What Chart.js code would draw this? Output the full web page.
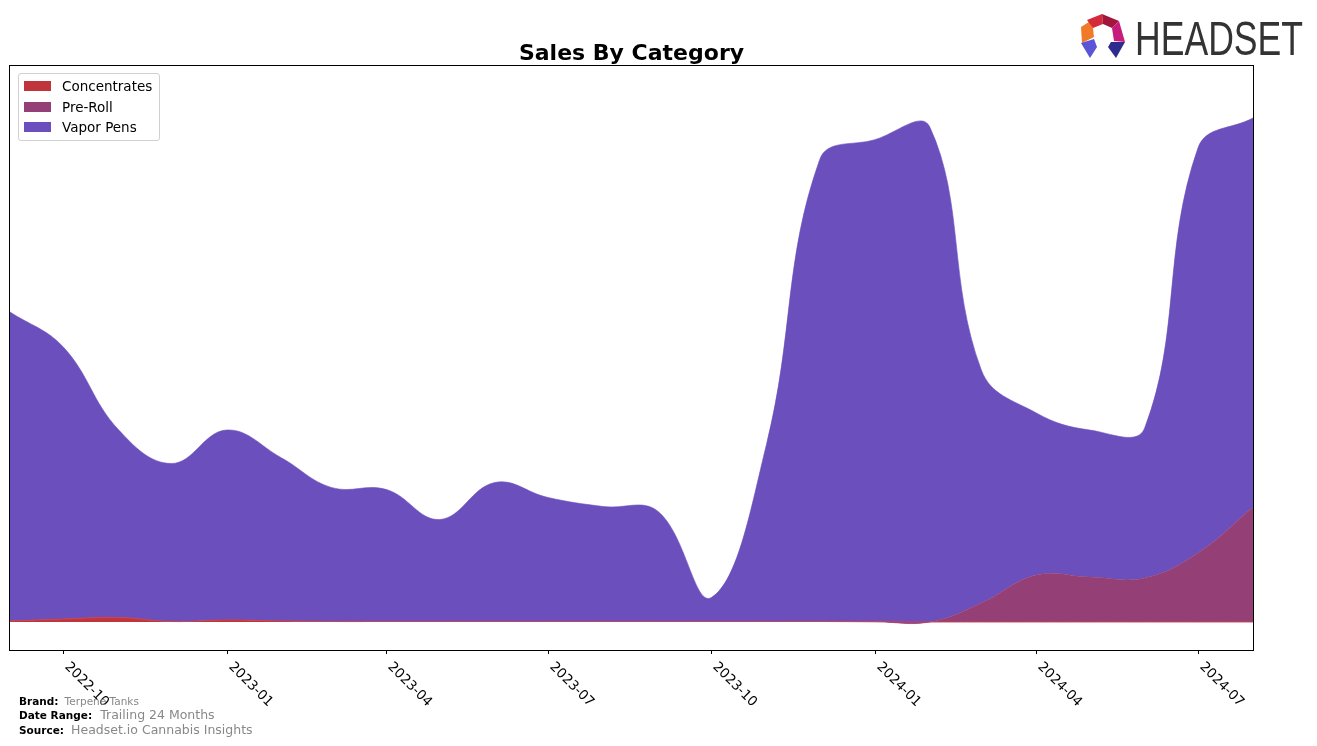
<!DOCTYPE html>
<html>
<head>
<meta charset="utf-8">
<script src="https://cdn.jsdelivr.net/npm/chart.js@4.4.1/dist/chart.umd.min.js"></script>
<style>
  html, body { margin: 0; padding: 0; background: #fff; }
  body { width: 1317px; height: 746px; position: relative; overflow: hidden; font-family: "DejaVu Sans", sans-serif; }
  #wrap { position: absolute; left: 0; top: 0; width: 1317px; height: 746px; }
  #title { position: absolute; left: 0; width: 1263px; top: 40px; text-align: center; font-weight: bold; font-size: 22px; color: #000; }
  #legend { position: absolute; left: 18px; top: 73px; width: 140px; height: 66px; border: 1px solid #d0d0d0; border-radius: 3px; background: rgba(255,255,255,0.85); }
  .lg { position: absolute; left: 5px; font-size: 13.5px; color: #000; white-space: nowrap; }
  .lg span.sw { display: inline-block; width: 27px; height: 10px; vertical-align: middle; margin-right: 11px; position: relative; top: -1px; }
  .ft { position: absolute; white-space: nowrap; }
  .ft b { color: #000; font-size: 10.5px; }
  .g { color: #888; }
</style>
</head>
<body>
<div id="wrap"><canvas id="c" width="1317" height="746"></canvas></div>
<div id="title">Sales By Category</div>
<div id="legend">
  <div class="lg" style="top:4px"><span class="sw" style="background:#c0353b"></span>Concentrates</div>
  <div class="lg" style="top:25px"><span class="sw" style="background:#953f77"></span>Pre-Roll</div>
  <div class="lg" style="top:45px"><span class="sw" style="background:#6a4fbd"></span>Vapor Pens</div>
</div>
<div class="ft" style="left:19px;top:690px"><b>Brand:</b> <span class="g" style="font-size:10.5px;margin-left:1px">Terpene Tanks</span></div>
<div class="ft" style="left:19px;top:704px"><b>Date Range:</b> <span class="g" style="font-size:12.5px;margin-left:3px">Trailing 24 Months</span></div>
<div class="ft" style="left:19px;top:719px"><b>Source:</b> <span class="g" style="font-size:12.5px;margin-left:2px">Headset.io Cannabis Insights</span></div>
<svg style="position:absolute;left:0;top:0" width="1317" height="70">
  <polygon points="1081,27 1092,20 1094,37 1082,43" fill="#f07a2a"/>
  <polygon points="1087,20 1102,14 1103,24 1093,28" fill="#d42b3c"/>
  <polygon points="1102,14 1119,21 1112,28 1103,24" fill="#a3163c"/>
  <polygon points="1119,21 1125,42 1114,41 1112,28" fill="#c61c7c"/>
  <polygon points="1081,43 1094,39 1097,47 1090,58" fill="#5a55d6"/>
  <polygon points="1125,42 1111,42 1108,47 1116,58" fill="#2d2c8e"/>
  <text x="1135" y="55" font-family="Liberation Sans, Arial, sans-serif" font-size="48" fill="#333" textLength="168" lengthAdjust="spacingAndGlyphs">HEADSET</text>
</svg>
<script>
// ---- data ----
const months = ['2022-09-01','2022-10-01','2022-11-01','2022-12-01','2023-01-01','2023-02-01','2023-03-01','2023-04-01','2023-05-01','2023-06-01','2023-07-01','2023-08-01','2023-09-01','2023-10-01','2023-11-01','2023-12-01','2024-01-01','2024-02-01','2024-03-01','2024-04-01','2024-05-01','2024-06-01','2024-07-01','2024-08-01'];
const concentrates = [1, 3, 4.5, 0.5, 2, 1, 0.5, 0.5, 0.5, 0.5, 0.5, 0.5, 0.5, 0.5, 0.5, 0.5, 0.3, 0, 0, 0, 0, 0, 0, 0];
const preRoll = [0, 0, 0, 0, 0, 0, 0, 0, 0, 0, 0, 0, 0, 0, 0, 0, 0, 0, 19, 47, 45, 44, 69, 115];
const vaporPens = [309, 272, 188, 158, 190, 163, 134, 132, 102, 139, 124, 115, 110, 24, 177, 462, 482, 495, 233, 162, 147, 150, 405, 389];
const tickLabels = ['2022-10','2023-01','2023-04','2023-07','2023-10','2024-01','2024-04','2024-07'];

const DAY = 86400000;
const t0 = Date.parse(months[0]);
const dayOf = s => (Date.parse(s) - t0) / DAY;
const xs = months.map(dayOf);
const pts = arr => arr.map((v, i) => ({ x: xs[i], y: v }));

const framePlugin = {
  id: 'frame',
  afterDraw(chart) {
    const ctx = chart.ctx, a = chart.chartArea, sx = chart.scales.x;
    ctx.save();
    ctx.strokeStyle = '#000';
    ctx.lineWidth = 1;
    ctx.strokeRect(Math.round(a.left) - 0.5, Math.round(a.top) - 0.5, Math.round(a.right - a.left) + 1, Math.round(a.bottom - a.top) + 1);
    ctx.fillStyle = '#000';
    ctx.font = '13.5px "DejaVu Sans"';
    ctx.textAlign = 'left';
    ctx.textBaseline = 'top';
    tickLabels.forEach(lbl => {
      const px = Math.round(sx.getPixelForValue(dayOf(lbl + '-01'))) + 0.5;
      ctx.beginPath();
      ctx.moveTo(px, a.bottom);
      ctx.lineTo(px, a.bottom + 4);
      ctx.stroke();
      ctx.save();
      ctx.translate(px + 8, a.bottom + 10);
      ctx.rotate(Math.PI / 4);
      ctx.fillText(lbl, 0, 0);
      ctx.restore();
    });
    ctx.restore();
  }
};

new Chart(document.getElementById('c'), {
  type: 'line',
  data: {
    datasets: [
      { label: 'Concentrates', data: pts(concentrates), backgroundColor: '#c0353b', borderColor: 'rgba(200,70,80,0.9)', borderWidth: 1, fill: 'origin', pointRadius: 0, tension: 0.4 },
      { label: 'Pre-Roll', data: pts(preRoll), backgroundColor: '#953f77', borderColor: 'rgba(150,63,119,0.6)', borderWidth: 1, fill: '-1', pointRadius: 0, tension: 0.4 },
      { label: 'Vapor Pens', data: pts(vaporPens), backgroundColor: '#6a4fbd', borderColor: 'rgba(106,79,189,0.6)', borderWidth: 1, fill: '-1', pointRadius: 0, tension: 0.4 }
    ]
  },
  options: {
    responsive: false,
    animation: false,
    layout: { padding: { left: 10, top: 66, right: 64, bottom: 96 } },
    plugins: { legend: { display: false }, title: { display: false }, tooltip: { enabled: false } },
    scales: {
      x: { type: 'linear', min: 0, max: xs[xs.length - 1], display: false },
      y: { stacked: true, min: -28, max: 556, display: false }
    }
  },
  plugins: [framePlugin]
});
</script>
</body>
</html>
